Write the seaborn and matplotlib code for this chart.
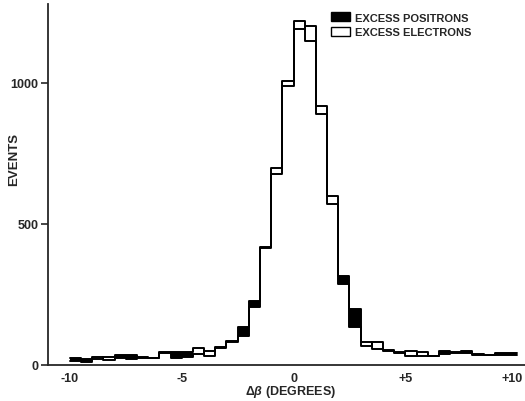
import numpy as np
import pandas as pd
import matplotlib
matplotlib.use("Agg")
import matplotlib.pyplot as plt
import matplotlib.transforms as mtransforms
from matplotlib.patches import Patch
import seaborn as sns

# Bin edges: -10 .. +10 degrees in 0.5 degree steps
bin_edges = np.arange(-10.0, 10.01, 0.5)
bin_centers = (bin_edges[:-1] + bin_edges[1:]) / 2

positrons = [24, 20, 28, 18, 35, 35, 30, 24, 47, 45,
             47, 60, 33, 63, 84, 134, 228, 418, 677, 989,
             1218, 1150, 918, 571, 316, 199, 83, 56, 50, 47,
             33, 46, 31, 51, 45, 50, 40, 37, 42, 44]
electrons = [15, 12, 22, 27, 26, 22, 25, 26, 44, 24,
             30, 39, 50, 61, 82, 104, 206, 414, 699, 1007,
             1192, 1203, 890, 599, 287, 135, 68, 80, 54, 44,
             50, 33, 33, 39, 42, 42, 36, 34, 35, 36]

x_ticks = [-10, -5, 0, 5, 10]
x_tick_labels = ["-10", "-5", "0", "+5", "+10"]
y_ticks = [0, 500, 1000]
y_tick_labels = ["0", "500", "1000"]

sns.set_style("ticks")
plt.rcParams['font.family'] = ['Liberation Sans', 'DejaVu Sans']
plt.rcParams['font.weight'] = 'bold'
plt.rcParams['mathtext.fontset'] = 'custom'
plt.rcParams['mathtext.it'] = 'Liberation Sans:italic:bold'
plt.rcParams['mathtext.rm'] = 'Liberation Sans:bold'

df = pd.DataFrame({"center": bin_centers, "pos": positrons, "ele": electrons})

fig = plt.figure(figsize=(5.25, 4.02), dpi=100)
ax = fig.add_axes([48 / 525, (402 - 366) / 402, (525 - 48) / 525, (366 - 5) / 402])

# black fill where positrons exceed electrons
pos_ext = np.append(df["pos"].values, df["pos"].values[-1])
ele_ext = np.append(df["ele"].values, df["ele"].values[-1])
ax.fill_between(bin_edges, ele_ext, pos_ext, where=pos_ext > ele_ext,
                step="post", facecolor="black", edgecolor="none", zorder=2)

for col in ["pos", "ele"]:
    sns.histplot(data=df, x="center", weights=col, binwidth=0.5, binrange=(-10, 10),
                 element="step", fill=False, color="black", linewidth=1.4, ax=ax, zorder=3)

ax.set_xlim(-10.98, 10.35)
ax.set_ylim(0, 1280)

ax.set_xticks(x_ticks)
ax.set_xticklabels(x_tick_labels, fontsize=9, fontweight="bold")
ax.tick_params(axis="x", length=0, pad=5)
ax.set_yticks(y_ticks)
ax.set_yticklabels(y_tick_labels, fontsize=9, fontweight="bold")
ax.tick_params(axis="y", length=5, width=1.2, direction="out", pad=2)

# nudge the last x tick label so it stays inside the figure
last = ax.get_xticklabels()[-1]
last.set_transform(last.get_transform() + mtransforms.ScaledTranslation(-5 / 100, 0, fig.dpi_scale_trans))

for s in ["top", "right"]:
    ax.spines[s].set_visible(False)
for s in ["left", "bottom"]:
    ax.spines[s].set_linewidth(1.3)

ax.set_xlabel(r"$\Delta\beta$ (DEGREES)", fontsize=9, fontweight="bold")
ax.xaxis.set_label_coords((291 - 48) / 477, -(384 - 366) / 361)
ax.set_ylabel("EVENTS", fontsize=9.5, fontweight="bold")
ax.yaxis.set_label_coords(-(48 - 20) / 477, (366 - 160) / 361)

handles = [Patch(facecolor="black", edgecolor="black", label="EXCESS POSITRONS"),
           Patch(facecolor="white", edgecolor="black", label="EXCESS ELECTRONS")]
ax.legend(handles=handles, loc="upper left", bbox_to_anchor=(0.58, 0.995),
          frameon=False, fontsize=8, handlelength=1.7, handleheight=0.8,
          handletextpad=0.4, labelspacing=0.4, borderaxespad=0.2)

fig.savefig("out.png", dpi=100)
